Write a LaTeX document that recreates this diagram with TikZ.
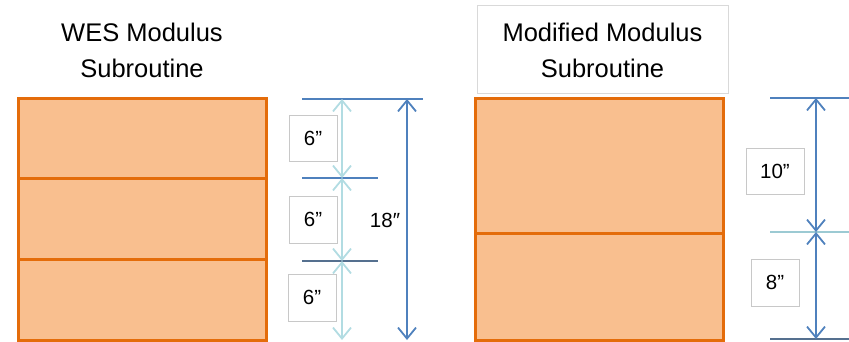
\documentclass[tikz,border=0pt]{standalone}
\usepackage{fontspec}
\setmainfont{Liberation Sans}
\usetikzlibrary{arrows.meta}

\definecolor{layerfill}{HTML}{F9BF8F}
\definecolor{layeredge}{HTML}{E46C0A}
\definecolor{dimblue}{HTML}{4F81BD}
\definecolor{dimlight}{HTML}{B2DCE2}
\definecolor{dimslate}{HTML}{55708F}
\definecolor{dimteal}{HTML}{9CCAD3}
\definecolor{boxgray}{HTML}{C8C8C8}

\tikzset{
  layer/.style={draw=layeredge, fill=layerfill, line width=3pt},
  tick/.style={line width=1.8pt},
  barb/.tip={Straight Barb[length=11pt,width=18pt,line width=1.8pt]},
  dimarrow/.style={line width=1.8pt, barb-barb},
  lbl/.style={draw=boxgray, fill=white, line width=0.8pt, inner sep=0pt,
              font=\fontsize{20.5}{24}\selectfont},
  title/.style={align=center, font=\fontsize{25.5}{36}\selectfont}
}

\begin{document}
\begin{tikzpicture}[x=1pt, y=-1pt]
  \useasboundingbox (0,0) rectangle (849,341);

  % ---- WES modulus subroutine: three 6" layers ----
  \node[title] (titleL) at (142,50) {WES Modulus\\Subroutine};
  \draw[layer] (18.5,98.5) rectangle (266.5,178.5);
  \draw[layer] (18.5,178.5) rectangle (266.5,259.5);
  \draw[layer] (18.5,259.5) rectangle (266.5,340);

  \coordinate (lt0) at (302,99);   \coordinate (lt0e) at (423,99);
  \coordinate (lt1) at (302,178);  \coordinate (lt1e) at (378,178);
  \coordinate (lt2) at (302,261);  \coordinate (lt2e) at (378,261);
  \coordinate (la0) at (342,99);
  \coordinate (la1) at (342,178);
  \coordinate (la2) at (342,261);
  \coordinate (la3) at (342,340);
  \coordinate (lb0) at (407,99);
  \coordinate (lb1) at (407,340);

  \draw[tick, dimblue] (lt0) -- (lt0e);
  \draw[tick, dimblue] (lt1) -- (lt1e);
  \draw[tick, dimslate] (lt2) -- (lt2e);

  \draw[dimarrow, dimlight] (la0) -- (la1);
  \draw[dimarrow, dimlight] (la1) -- (la2);
  \draw[dimarrow, dimlight] (la2) -- (la3);
  \draw[dimarrow, dimblue] (lb0) -- (lb1);

  \node[lbl, minimum width=48pt, minimum height=46pt] (d1) at (313,138) {6”};
  \node[lbl, minimum width=48pt, minimum height=47pt] (d2) at (313,219.5) {6”};
  \node[lbl, minimum width=48pt, minimum height=47pt] (d3) at (312,297.5) {6”};
  \node[font=\fontsize{20.5}{24}\selectfont] (dtot) at (385,220) {18″};

  % ---- Modified modulus subroutine: 10" over 8" ----
  \node[draw=boxgray!70, line width=0.6pt, minimum width=251pt, minimum height=88pt,
        inner sep=0pt] (titleRbox) at (602.5,49) {};
  \node[title] (titleR) at (602.5,50) {Modified Modulus\\Subroutine};
  \draw[layer] (475,98.5) rectangle (723,233);
  \draw[layer] (475,233) rectangle (723,340);

  \coordinate (rt0) at (770,98);   \coordinate (rt0e) at (849,98);
  \coordinate (rt1) at (770,232);  \coordinate (rt1e) at (849,232);
  \coordinate (rt2) at (770,339);  \coordinate (rt2e) at (849,339);
  \coordinate (ra0) at (816,98);
  \coordinate (ra1) at (816,232);
  \coordinate (ra2) at (816,339);

  \draw[tick, dimblue] (rt0) -- (rt0e);
  \draw[tick, dimteal] (rt1) -- (rt1e);
  \draw[tick, dimslate] (rt2) -- (rt2e);
  \draw[dimarrow, dimblue] (ra0) -- (ra1);
  \draw[dimarrow, dimblue] (ra1) -- (ra2);

  \node[lbl, minimum width=58pt, minimum height=46pt] (d10) at (775,171) {10”};
  \node[lbl, minimum width=48pt, minimum height=47pt] (d8) at (775,282.5) {8”};
\end{tikzpicture}
\end{document}
